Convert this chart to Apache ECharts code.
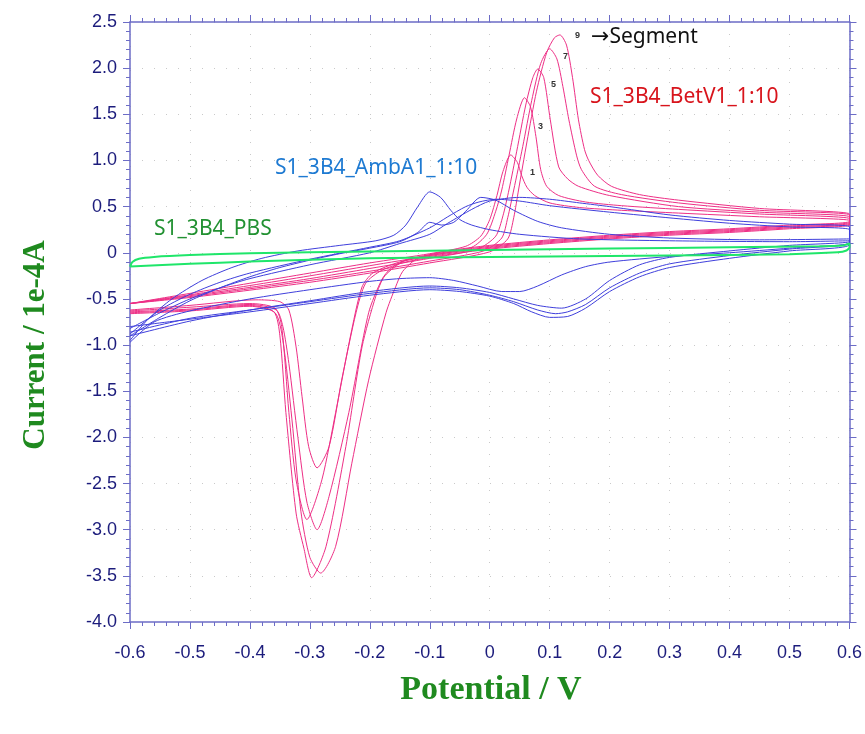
<!DOCTYPE html>
<html>
<head>
<meta charset="utf-8">
<script src="https://cdn.jsdelivr.net/npm/echarts@6/dist/echarts.min.js"></script>
<style>
  html, body { margin: 0; padding: 0; background: #fff; }
  #chart { width: 865px; height: 734px; }
</style>
</head>
<body>
<div id="chart"></div>
<script>
// axis ticks
const xTicks = { min: -0.6, max: 0.6, step: 0.1 };
const yTicks = { min: -4.0, max: 2.5, step: 0.5 };

// S1_3B4_PBS (blank)
const pbsLoop = [
  [-0.6, -0.15], [-0.596, -0.1], [-0.585, -0.065], [-0.56, -0.045], [-0.5, -0.025], [-0.4, -0.005],
  [-0.2, 0.015], [0.0, 0.03], [0.2, 0.045], [0.4, 0.06], [0.55, 0.07], [0.59, 0.08], [0.6, 0.1],
  [0.6, 0.06], [0.595, 0.025], [0.58, 0.005], [0.5, -0.015], [0.3, -0.03], [0.0, -0.045],
  [-0.2, -0.06], [-0.4, -0.095], [-0.5, -0.12], [-0.6, -0.15]
];

// S1_3B4_AmbA1_1:10, four cycles
const ambCycle1 = [
  [-0.6, -0.95], [-0.57, -0.72], [-0.53, -0.5], [-0.48, -0.3], [-0.43, -0.16], [-0.38, -0.06], [-0.32, 0.02],
  [-0.25, 0.08], [-0.19, 0.13], [-0.16, 0.19], [-0.14, 0.3], [-0.12, 0.5], [-0.1, 0.66], [-0.082, 0.6],
  [-0.065, 0.46], [-0.05, 0.36], [-0.03, 0.3], [0.0, 0.25], [0.05, 0.2], [0.15, 0.15], [0.3, 0.13], [0.5, 0.12], [0.6, 0.13],
  [0.6, 0.1], [0.5, 0.05], [0.4, 0.0], [0.3, -0.04], [0.2, -0.1], [0.16, -0.15], [0.12, -0.24], [0.08, -0.36],
  [0.05, -0.42], [0.02, -0.42], [-0.02, -0.36], [-0.06, -0.3], [-0.1, -0.27], [-0.15, -0.28], [-0.2, -0.31],
  [-0.3, -0.4], [-0.4, -0.5], [-0.5, -0.63], [-0.56, -0.75], [-0.6, -0.97]
];
const ambCycle2 = [
  [-0.6, -0.9], [-0.55, -0.7], [-0.5, -0.52], [-0.45, -0.38], [-0.4, -0.26], [-0.35, -0.16], [-0.3, -0.08],
  [-0.25, -0.01], [-0.2, 0.05], [-0.15, 0.12], [-0.12, 0.22], [-0.1, 0.33], [-0.08, 0.3], [-0.06, 0.33],
  [-0.04, 0.45], [-0.015, 0.6], [0.01, 0.57], [0.04, 0.46], [0.08, 0.34], [0.12, 0.27], [0.2, 0.2], [0.3, 0.16], [0.45, 0.14], [0.6, 0.15],
  [0.6, 0.12], [0.5, 0.08], [0.4, 0.02], [0.3, -0.05], [0.25, -0.13], [0.2, -0.3], [0.16, -0.5], [0.12, -0.6],
  [0.08, -0.57], [0.04, -0.5], [0.0, -0.43], [-0.05, -0.38], [-0.1, -0.36], [-0.2, -0.42], [-0.3, -0.52],
  [-0.4, -0.62], [-0.5, -0.74], [-0.6, -0.9]
];
const ambCycle3 = [
  [-0.6, -0.82], [-0.55, -0.65], [-0.5, -0.5], [-0.45, -0.38], [-0.4, -0.28], [-0.3, -0.13], [-0.2, 0.0],
  [-0.15, 0.1], [-0.1, 0.2], [-0.07, 0.32], [-0.03, 0.47], [0.0, 0.56], [0.05, 0.6], [0.1, 0.58], [0.15, 0.54],
  [0.2, 0.5], [0.3, 0.41], [0.4, 0.35], [0.5, 0.31], [0.6, 0.28],
  [0.6, 0.09], [0.5, 0.02], [0.4, -0.06], [0.3, -0.16], [0.25, -0.26], [0.2, -0.42], [0.16, -0.6], [0.13, -0.69],
  [0.1, -0.7], [0.07, -0.64], [0.04, -0.55], [0.0, -0.47], [-0.05, -0.42], [-0.1, -0.4], [-0.2, -0.46],
  [-0.3, -0.55], [-0.4, -0.64], [-0.5, -0.72], [-0.6, -0.8]
];
const ambCycle4 = [
  [-0.6, -0.88], [-0.55, -0.62], [-0.5, -0.45], [-0.45, -0.32], [-0.4, -0.22], [-0.3, -0.07], [-0.2, 0.06],
  [-0.15, 0.13], [-0.1, 0.27], [-0.07, 0.39], [-0.04, 0.5], [-0.018, 0.55], [0.01, 0.58], [0.05, 0.56],
  [0.1, 0.51], [0.2, 0.44], [0.28, 0.39], [0.4, 0.32], [0.5, 0.28], [0.6, 0.25],
  [0.6, 0.11], [0.5, 0.04], [0.4, -0.03], [0.3, -0.12], [0.25, -0.22], [0.2, -0.38], [0.16, -0.56], [0.13, -0.64],
  [0.11, -0.66], [0.08, -0.62], [0.04, -0.53], [0.0, -0.46], [-0.05, -0.4], [-0.1, -0.38], [-0.2, -0.44],
  [-0.3, -0.53], [-0.4, -0.62], [-0.5, -0.71], [-0.6, -0.86]
];

// S1_3B4_BetV1_1:10, segments 1, 3, 5, 7, 9
const betSeg1 = [
  [-0.6, -0.55], [-0.5, -0.44], [-0.4, -0.33], [-0.3, -0.22], [-0.2, -0.11], [-0.1, -0.01], [-0.04, 0.07],
  [-0.015, 0.18], [0.0, 0.36], [0.012, 0.62], [0.022, 0.88], [0.035, 1.06], [0.046, 0.98], [0.053, 0.84],
  [0.062, 0.71], [0.075, 0.62], [0.1, 0.54], [0.15, 0.49], [0.22, 0.46], [0.315, 0.43], [0.45, 0.39], [0.6, 0.35],
  [0.6, 0.3], [0.5, 0.26], [0.4, 0.22], [0.3, 0.19], [0.2, 0.15], [0.1, 0.1], [0.0, 0.04], [-0.08, -0.03],
  [-0.14, -0.1], [-0.18, -0.19], [-0.207, -0.33], [-0.223, -0.65], [-0.247, -1.38], [-0.268, -2.1],
  [-0.288, -2.33], [-0.302, -2.1], [-0.313, -1.56], [-0.323, -1.02], [-0.335, -0.62], [-0.35, -0.53],
  [-0.39, -0.51], [-0.5, -0.57], [-0.6, -0.62]
];
const betSeg3 = [
  [-0.6, -0.55], [-0.5, -0.455], [-0.4, -0.355], [-0.3, -0.25], [-0.2, -0.14], [-0.1, -0.03], [-0.03, 0.06],
  [-0.005, 0.2], [0.01, 0.45], [0.02, 0.68], [0.032, 1.05], [0.045, 1.45], [0.058, 1.68], [0.068, 1.58],
  [0.077, 1.26], [0.085, 0.9], [0.095, 0.72], [0.115, 0.62], [0.16, 0.55], [0.22, 0.51], [0.315, 0.47],
  [0.45, 0.42], [0.6, 0.37],
  [0.6, 0.31], [0.5, 0.27], [0.4, 0.23], [0.3, 0.2], [0.2, 0.16], [0.1, 0.11], [0.0, 0.05], [-0.08, -0.02],
  [-0.15, -0.1], [-0.195, -0.22], [-0.213, -0.37], [-0.23, -0.83], [-0.257, -1.73], [-0.28, -2.46],
  [-0.305, -2.89], [-0.323, -2.46], [-0.335, -1.73], [-0.347, -0.8], [-0.358, -0.6], [-0.4, -0.55],
  [-0.5, -0.59], [-0.6, -0.63]
];
const betSeg5 = [
  [-0.6, -0.55], [-0.5, -0.465], [-0.4, -0.375], [-0.3, -0.28], [-0.2, -0.17], [-0.1, -0.06], [-0.02, 0.04],
  [0.01, 0.18], [0.022, 0.4], [0.032, 0.68], [0.045, 1.1], [0.06, 1.6], [0.072, 1.9], [0.08, 1.99], [0.09, 1.9],
  [0.101, 1.44], [0.115, 0.93], [0.13, 0.8], [0.148, 0.72], [0.2, 0.62], [0.315, 0.5], [0.45, 0.44], [0.6, 0.39],
  [0.6, 0.32], [0.5, 0.28], [0.4, 0.24], [0.3, 0.21], [0.2, 0.17], [0.1, 0.12], [0.0, 0.06], [-0.08, -0.01],
  [-0.14, -0.08], [-0.165, -0.17], [-0.18, -0.29], [-0.202, -0.65], [-0.235, -1.73], [-0.268, -2.64],
  [-0.288, -3.0], [-0.305, -2.7], [-0.32, -2.0], [-0.335, -1.2], [-0.345, -0.8], [-0.356, -0.62],
  [-0.4, -0.56], [-0.5, -0.61], [-0.6, -0.64]
];
const betSeg7 = [
  [-0.6, -0.55], [-0.5, -0.475], [-0.4, -0.39], [-0.3, -0.3], [-0.2, -0.2], [-0.1, -0.09], [-0.01, 0.02],
  [0.02, 0.16], [0.03, 0.38], [0.04, 0.68], [0.055, 1.15], [0.07, 1.65], [0.085, 2.05], [0.1, 2.21],
  [0.112, 2.1], [0.122, 1.8], [0.132, 1.44], [0.145, 1.05], [0.153, 0.9], [0.175, 0.72], [0.22, 0.63],
  [0.315, 0.54], [0.45, 0.46], [0.6, 0.41],
  [0.6, 0.33], [0.5, 0.29], [0.4, 0.25], [0.3, 0.22], [0.2, 0.18], [0.1, 0.13], [0.0, 0.07], [-0.08, 0.0],
  [-0.14, -0.08], [-0.175, -0.25], [-0.19, -0.47], [-0.213, -1.02], [-0.24, -2.1], [-0.273, -3.18],
  [-0.297, -3.52], [-0.31, -3.2], [-0.323, -2.82], [-0.34, -1.73], [-0.35, -0.9], [-0.36, -0.64],
  [-0.4, -0.57], [-0.5, -0.62], [-0.6, -0.65]
];
const betSeg9 = [
  [-0.6, -0.55], [-0.5, -0.485], [-0.4, -0.405], [-0.3, -0.32], [-0.2, -0.22], [-0.1, -0.11], [0.0, 0.01],
  [0.03, 0.15], [0.04, 0.38], [0.048, 0.68], [0.062, 1.2], [0.078, 1.75], [0.095, 2.17], [0.108, 2.33],
  [0.117, 2.36], [0.128, 2.25], [0.138, 1.9], [0.148, 1.44], [0.158, 1.12], [0.165, 1.0], [0.18, 0.84],
  [0.203, 0.72], [0.25, 0.63], [0.315, 0.57], [0.45, 0.48], [0.6, 0.42],
  [0.6, 0.34], [0.5, 0.3], [0.4, 0.26], [0.3, 0.23], [0.2, 0.19], [0.1, 0.14], [0.0, 0.08], [-0.07, 0.02],
  [-0.12, -0.06], [-0.145, -0.2], [-0.157, -0.37], [-0.173, -0.65], [-0.202, -1.38], [-0.23, -2.28],
  [-0.257, -3.18], [-0.282, -3.47], [-0.3, -3.3], [-0.315, -2.8], [-0.33, -1.8], [-0.345, -0.95],
  [-0.358, -0.65], [-0.4, -0.58], [-0.5, -0.63], [-0.6, -0.66]
];

const PINK = '#ee2f86';
const BLUE = '#3f3fdc';
const GREEN = '#1fe66a';
const AXIS = '#6c6cc6';
const LABEL = '#1c1c7c';
const TITLE = '#1f8a1f';

const fmt = v => Math.abs(v) < 1e-9 ? '0' : v.toFixed(1);

const chart = echarts.init(document.getElementById('chart'), null, { renderer: 'canvas' });

const mkLine = (name, data, color, width) => ({
  name, type: 'line', data, showSymbol: false, smooth: 0.25,
  lineStyle: { color, width }, itemStyle: { color }, z: 3
});

const baseX = (pos) => ({
  type: 'value', position: pos, min: xTicks.min, max: xTicks.max, interval: xTicks.step,
  axisLine: { show: true, onZero: false, lineStyle: { color: AXIS, width: 1.5 } },
  axisTick: { show: true, length: 7, lineStyle: { color: AXIS } },
  minorTick: { show: true, splitNumber: 5, length: 4, lineStyle: { color: AXIS } },
  splitLine: { show: false }
});
const baseY = (pos) => ({
  type: 'value', position: pos, min: yTicks.min, max: yTicks.max, interval: yTicks.step,
  axisLine: { show: true, onZero: false, lineStyle: { color: AXIS, width: 1.5 } },
  axisTick: { show: true, length: 7, lineStyle: { color: AXIS } },
  minorTick: { show: true, splitNumber: 5, length: 4, lineStyle: { color: AXIS } },
  splitLine: { show: false }
});

const tickFont = '"Liberation Sans", Arial, sans-serif';
const xBottom = Object.assign(baseX('bottom'), {
  axisLabel: { formatter: fmt, color: LABEL, fontSize: 18, margin: 22, fontFamily: tickFont },
  splitLine: { show: true, lineStyle: { color: '#c9c9c9', type: [1, 11], width: 1 } }
});
const xTop = Object.assign(baseX('top'), { axisLabel: { show: false } });
const yLeft = Object.assign(baseY('left'), {
  axisLabel: { formatter: fmt, color: LABEL, fontSize: 18, margin: 13, fontFamily: tickFont },
  splitLine: { show: true, lineStyle: { color: '#c9c9c9', type: [1, 11], width: 1 } }
});
const yRight = Object.assign(baseY('right'), { axisLabel: { show: false } });

const annFont = '"Noto Sans", "Open Sans", sans-serif';
const segFont = 'bold 9px "Liberation Sans", sans-serif';

chart.setOption({
  animation: false,
  backgroundColor: '#fff',
  grid: { left: 130, right: 15, top: 22, bottom: 112 },
  xAxis: [xBottom, xTop],
  yAxis: [yLeft, yRight],
  series: [
    mkLine('BetV1 seg 1', betSeg1, PINK, 1),
    mkLine('BetV1 seg 3', betSeg3, PINK, 1),
    mkLine('BetV1 seg 5', betSeg5, PINK, 1),
    mkLine('BetV1 seg 7', betSeg7, PINK, 1),
    mkLine('BetV1 seg 9', betSeg9, PINK, 1),
    mkLine('AmbA1 c1', ambCycle1, BLUE, 1),
    mkLine('AmbA1 c2', ambCycle2, BLUE, 1),
    mkLine('AmbA1 c3', ambCycle3, BLUE, 1),
    mkLine('AmbA1 c4', ambCycle4, BLUE, 1),
    mkLine('PBS', pbsLoop, GREEN, 2)
  ],
  graphic: [
    { type: 'text', x: 36, y: 345, rotation: Math.PI / 2,
      style: { text: 'Current / 1e-4A', font: 'bold 31px "Liberation Serif", "Times New Roman", serif',
        fill: TITLE, textAlign: 'center', textVerticalAlign: 'middle' } },
    { type: 'text', x: 491, y: 690,
      style: { text: 'Potential / V', font: 'bold 34px "Liberation Serif", "Times New Roman", serif',
        fill: TITLE, textAlign: 'center', textVerticalAlign: 'middle' } },
    { type: 'text', x: 154, y: 229,
      style: { text: 'S1_3B4_PBS', font: '21px ' + annFont, fill: '#229132', textVerticalAlign: 'middle' } },
    { type: 'text', x: 275, y: 168,
      style: { text: 'S1_3B4_AmbA1_1:10', font: '21px ' + annFont, fill: '#1e7ad2', textVerticalAlign: 'middle' } },
    { type: 'text', x: 590, y: 97,
      style: { text: 'S1_3B4_BetV1_1:10', font: '21px ' + annFont, fill: '#d8141c', textVerticalAlign: 'middle' } },
    { type: 'text', x: 591, y: 37,
      style: { text: '{a|→}{b|Segment}', fill: '#111', textVerticalAlign: 'middle',
        rich: { a: { font: '22px "DejaVu Sans", sans-serif', fill: '#111' },
                b: { font: '21px ' + annFont, fill: '#111' } } } },
    { type: 'text', x: 530, y: 173, style: { text: '1', font: segFont, fill: '#333', textVerticalAlign: 'middle' } },
    { type: 'text', x: 538, y: 127, style: { text: '3', font: segFont, fill: '#333', textVerticalAlign: 'middle' } },
    { type: 'text', x: 551, y: 85, style: { text: '5', font: segFont, fill: '#333', textVerticalAlign: 'middle' } },
    { type: 'text', x: 563, y: 57, style: { text: '7', font: segFont, fill: '#333', textVerticalAlign: 'middle' } },
    { type: 'text', x: 575, y: 36, style: { text: '9', font: segFont, fill: '#333', textVerticalAlign: 'middle' } }
  ]
});
</script>
</body>
</html>
